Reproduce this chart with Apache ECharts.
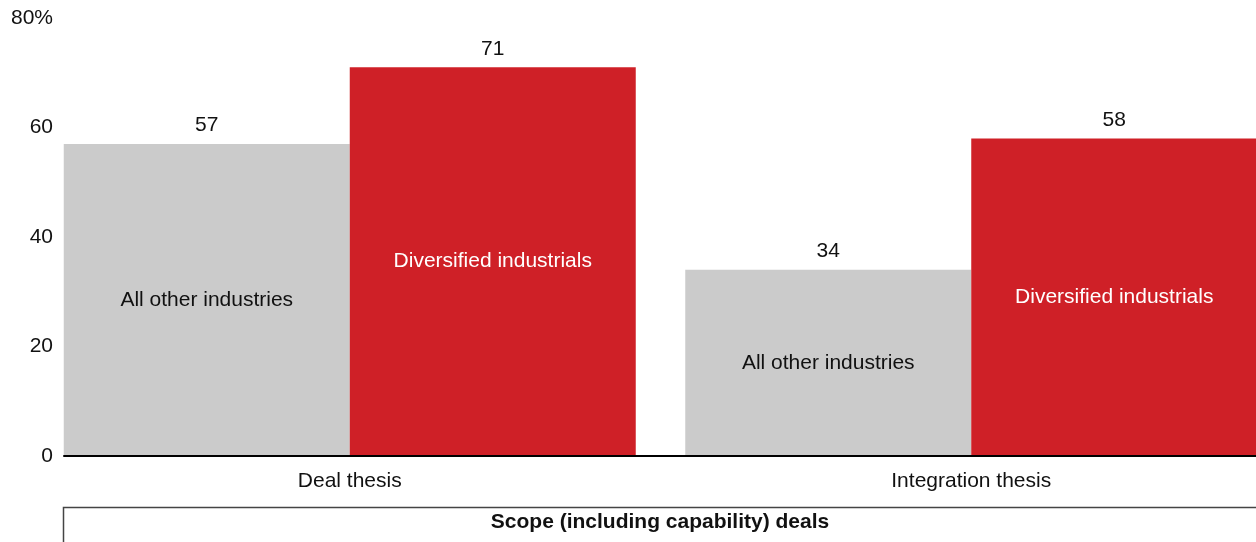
<!DOCTYPE html>
<html>
<head>
<meta charset="utf-8">
<script src="https://cdn.jsdelivr.net/npm/echarts@6/dist/echarts.min.js"></script>
<style>
html,body{margin:0;padding:0;background:#fff;}
#main{width:1256px;height:542px;}
</style>
</head>
<body>
<div id="main"></div>
<script>
const categories = ['Deal thesis', 'Integration thesis'];
const otherIndustries = [57, 34];
const diversifiedIndustrials = [71, 58];
const seriesNames = ['All other industries', 'Diversified industrials'];
const yTicks = [0, 20, 40, 60, 80];
const groupLabel = 'Scope (including capability) deals';

const FONT = '"Liberation Sans", Arial, sans-serif';
const FS = 21;
const GREY = '#cbcbcb';
const RED = '#cf2027';

const chart = echarts.init(document.getElementById('main'), null, {renderer: 'canvas'});

function topLabelSeries(stack, values) {
  return {
    type: 'bar', xAxisIndex: 1, yAxisIndex: 1, stack: stack,
    data: values.map(() => 0),
    barWidth: 286, barGap: 0,
    itemStyle: {color: 'rgba(0,0,0,0)'},
    silent: true,
    label: {
      show: true, position: 'top', distance: 8,
      fontFamily: FONT, fontSize: FS, color: '#111',
      formatter: p => String(values[p.dataIndex])
    }
  };
}

chart.setOption({
  animation: false,
  backgroundColor: '#fff',
  grid: [
    {left: 64, right: 0, top: 18, bottom: 86, outerBoundsMode: 'none'},
    {left: 39, right: -26, top: 18, bottom: 86, outerBoundsMode: 'none'}
  ],
  xAxis: [
    {
      gridIndex: 0, type: 'category', data: categories, z: 10,
      axisLine: {show: true, lineStyle: {color: '#000', width: 2}},
      axisTick: {show: false}, axisLabel: {show: false}
    },
    {
      gridIndex: 1, type: 'category', data: categories,
      axisLine: {show: false}, axisTick: {show: false},
      axisLabel: {show: true, margin: 15, fontFamily: FONT, fontSize: FS, color: '#111'}
    }
  ],
  yAxis: [
    {
      gridIndex: 0, type: 'value', min: yTicks[0], max: yTicks[yTicks.length - 1], interval: 20,
      axisLine: {show: false}, axisTick: {show: false}, splitLine: {show: false},
      axisLabel: {
        margin: 11, fontFamily: FONT, fontSize: FS, color: '#111',
        formatter: v => v === yTicks[yTicks.length - 1] ? v + '%' : String(v)
      }
    },
    {
      gridIndex: 1, type: 'value', min: yTicks[0], max: yTicks[yTicks.length - 1], interval: 20,
      show: false
    }
  ],
  series: [
    {
      name: seriesNames[0], type: 'bar', xAxisIndex: 1, yAxisIndex: 1, stack: 'a',
      data: otherIndustries, barWidth: 286, barGap: 0,
      itemStyle: {color: GREY},
      label: {show: true, position: 'inside', formatter: seriesNames[0],
        fontFamily: FONT, fontSize: FS, color: '#111'}
    },
    topLabelSeries('a', otherIndustries),
    {
      name: seriesNames[1], type: 'bar', xAxisIndex: 1, yAxisIndex: 1, stack: 'b',
      data: diversifiedIndustrials, barWidth: 286, barGap: 0,
      itemStyle: {color: RED},
      label: {show: true, position: 'inside', formatter: seriesNames[1],
        fontFamily: FONT, fontSize: FS, color: '#fff'}
    },
    topLabelSeries('b', diversifiedIndustrials)
  ],
  graphic: [
    {
      type: 'rect', z: 10,
      shape: {x: 63.5, y: 507.5, width: 1300, height: 100},
      style: {fill: 'none', stroke: '#444', lineWidth: 1.5}
    },
    {
      type: 'text', z: 10, x: 660, y: 522,
      style: {text: groupLabel, fontFamily: FONT, fontSize: FS, fontWeight: 'bold',
        fill: '#111', align: 'center', verticalAlign: 'middle'}
    }
  ]
});
</script>
</body>
</html>
